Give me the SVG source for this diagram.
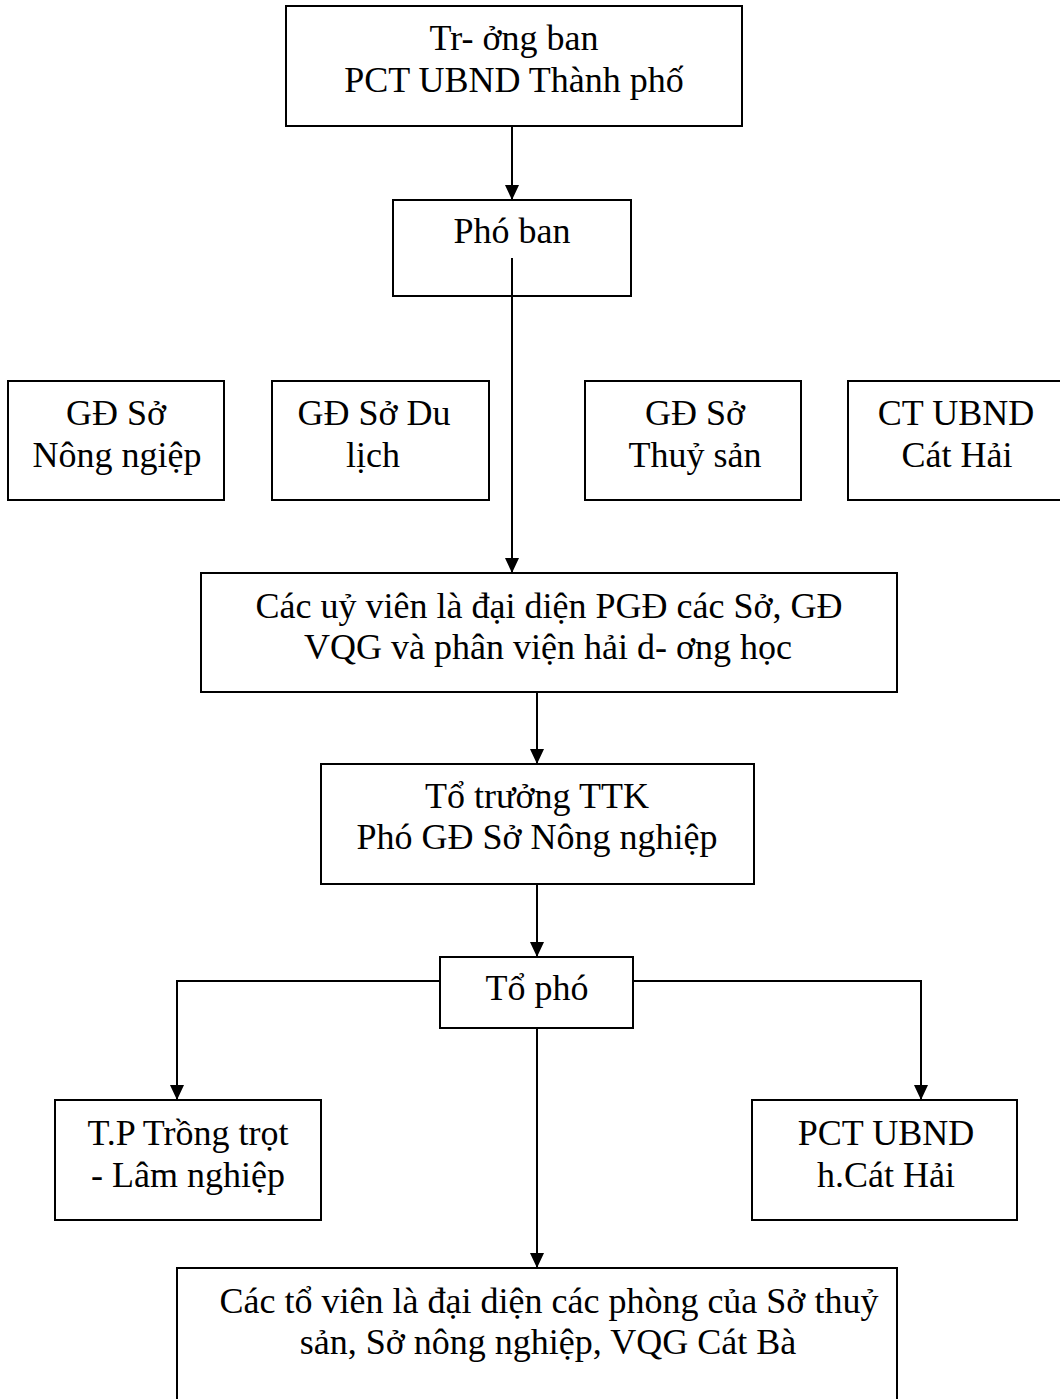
<svg xmlns="http://www.w3.org/2000/svg" width="1060" height="1399" viewBox="0 0 1060 1399">
<style>
.box{fill:#fff;stroke:#000;stroke-width:2}
.t{font-family:"Liberation Serif","Times New Roman",serif;font-size:36px;fill:#000;text-anchor:middle}
.c{fill:none;stroke:#000;stroke-width:2}
</style>
<defs>
<marker id="arr" markerUnits="userSpaceOnUse" markerWidth="15" markerHeight="14" refX="15" refY="7" orient="auto">
<path d="M0,0 L15,7 L0,14 Z" fill="#000"/>
</marker>
</defs>
<rect width="1060" height="1399" fill="#fff"/>
<g id="n-truongban"><rect class="box" x="286" y="6" width="456" height="120"/>
<text class="t" x="514" y="50">Tr- ởng ban</text><text class="t" x="514" y="92">PCT UBND Thành phố</text></g>
<g id="n-phoban"><rect class="box" x="393" y="200" width="238" height="96"/>
<text class="t" x="512" y="243">Phó ban</text></g>
<g id="n-gd-nn"><rect class="box" x="8" y="381" width="216" height="119"/>
<text class="t" x="116" y="425">GĐ Sở</text><text class="t" x="117" y="467">Nông ngiệp</text></g>
<g id="n-gd-dl"><rect class="box" x="272" y="381" width="217" height="119"/>
<text class="t" x="374" y="425">GĐ Sở Du</text><text class="t" x="373" y="467">lịch</text></g>
<g id="n-gd-ts"><rect class="box" x="585" y="381" width="216" height="119"/>
<text class="t" x="695" y="425">GĐ Sở</text><text class="t" x="695" y="467">Thuỷ sản</text></g>
<g id="n-ct-ch"><rect class="box" x="848" y="381" width="220" height="119"/>
<text class="t" x="956" y="425">CT UBND</text><text class="t" x="957" y="467">Cát Hải</text></g>
<g id="n-uyvien"><rect class="box" x="201" y="573" width="696" height="119"/>
<text class="t" x="549" y="618">Các uỷ viên là đại diện PGĐ các Sở, GĐ</text><text class="t" x="548" y="659">VQG và phân viện hải d- ơng học</text></g>
<g id="n-totruong"><rect class="box" x="321" y="764" width="433" height="120"/>
<text class="t" x="537" y="808">Tổ trưởng TTK</text><text class="t" x="537" y="849">Phó GĐ Sở Nông nghiệp</text></g>
<g id="n-topho"><rect class="box" x="440" y="957" width="193" height="71"/>
<text class="t" x="537" y="1000">Tổ phó</text></g>
<g id="n-tp-tt"><rect class="box" x="55" y="1100" width="266" height="120"/>
<text class="t" x="188" y="1145">T.P Trồng trọt</text><text class="t" x="188" y="1187">- Lâm nghiệp</text></g>
<g id="n-pct-ch"><rect class="box" x="752" y="1100" width="265" height="120"/>
<text class="t" x="886" y="1145">PCT UBND</text><text class="t" x="886" y="1187">h.Cát Hải</text></g>
<g id="n-toviens"><rect class="box" x="177" y="1268" width="720" height="140"/>
<text class="t" x="549" y="1313">Các tổ viên là đại diện các phòng của Sở thuỷ</text><text class="t" x="548" y="1354">sản, Sở nông nghiệp, VQG Cát Bà</text></g>
<g id="connectors">
<path class="c" d="M512,126 V200" marker-end="url(#arr)"/>
<path class="c" d="M512,258 V573" marker-end="url(#arr)"/>
<path class="c" d="M537,692 V764" marker-end="url(#arr)"/>
<path class="c" d="M537,884 V957" marker-end="url(#arr)"/>
<path class="c" d="M440,981 H177 V1100" marker-end="url(#arr)"/>
<path class="c" d="M633,981 H921 V1100" marker-end="url(#arr)"/>
<path class="c" d="M537,1028 V1268" marker-end="url(#arr)"/>
</g>
</svg>
